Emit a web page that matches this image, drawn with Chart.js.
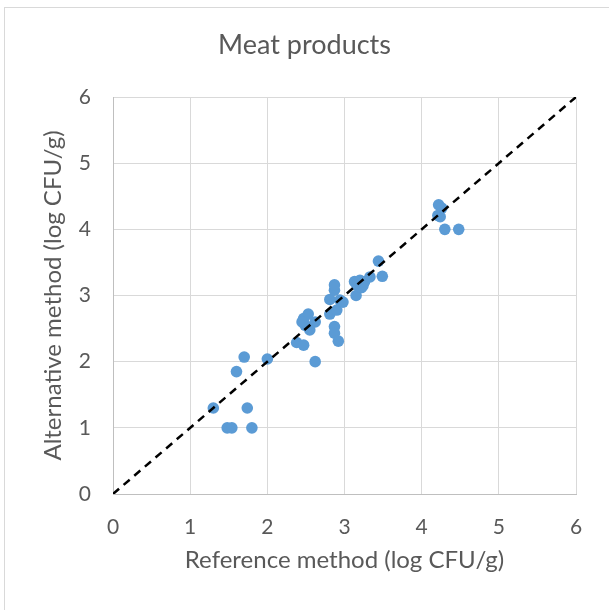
<!DOCTYPE html>
<html>
<head>
<meta charset="utf-8">
<script src="https://cdn.jsdelivr.net/npm/chart.js@4/dist/chart.umd.min.js"></script>
<style>
html, body { margin: 0; padding: 0; background: #fff; }
</style>
</head>
<body>
<canvas id="chart" width="609" height="610"></canvas>
<script>
// reference method (x) vs alternative method (y), log CFU/g
var refMethod = [1.48, 1.54, 1.80, 1.30, 1.74, 1.60, 1.70, 2.00, 2.38, 2.47,
                 2.62, 2.47, 2.53, 2.49, 2.62, 2.55, 2.45, 2.81, 2.87, 2.87,
                 2.92, 2.90, 2.81, 2.94, 2.98, 2.87, 2.87, 3.15, 3.13, 3.20,
                 3.24, 3.16, 3.26, 3.22, 3.24, 3.33, 3.49, 3.44, 4.22, 4.26,
                 4.21, 4.24, 4.30, 4.48];
var altMethod = [1.00, 1.00, 1.00, 1.30, 1.30, 1.85, 2.07, 2.04, 2.29, 2.25,
                 2.00, 2.65, 2.72, 2.55, 2.60, 2.48, 2.60, 2.72, 2.53, 2.43,
                 2.31, 2.78, 2.94, 2.93, 2.90, 3.08, 3.16, 3.00, 3.21, 3.23,
                 3.18, 3.16, 3.21, 3.12, 3.15, 3.28, 3.29, 3.52, 4.37, 4.32,
                 4.21, 4.19, 4.00, 4.00];
var lineX = [0, 6];
var lineY = [0, 6];
var axisMin = 0, axisMax = 6, axisStep = 1;

var points = refMethod.map(function (x, i) { return {x: x, y: altMethod[i]}; });
var linePts = lineX.map(function (x, i) { return {x: x, y: lineY[i]}; });

var fontFamily = 'Lato, "Open Sans", sans-serif';
var textColor = '#595959';
var gridColor = '#d9d9d9';

var frame = {
    id: 'frame',
    beforeDraw: function (chart) {
        var ctx = chart.ctx;
        ctx.save();
        ctx.fillStyle = '#fff';
        ctx.fillRect(0, 0, chart.width, chart.height);
        ctx.strokeStyle = gridColor;
        ctx.lineWidth = 1;
        ctx.strokeRect(4.5, 7.5, chart.width + 10, chart.height + 10);
        ctx.restore();
    }
};

new Chart(document.getElementById('chart'), {
    type: 'scatter',
    data: {
        datasets: [{
            label: 'y = x',
            data: linePts,
            showLine: true,
            borderColor: '#000',
            borderWidth: 2.5,
            borderDash: [8, 6],
            pointRadius: 0,
            fill: false
        }, {
            label: 'Meat products',
            data: points,
            backgroundColor: '#5B9BD5',
            borderColor: '#5B9BD5',
            borderWidth: 0,
            pointRadius: 5.8,
            pointHoverRadius: 5.8
        }]
    },
    options: {
        responsive: false,
        animation: false,
        devicePixelRatio: 1,
        layout: {padding: 0},
        plugins: {
            legend: {display: false},
            tooltip: {enabled: false},
            title: {
                display: true,
                text: 'Meat products',
                color: textColor,
                font: {family: fontFamily, size: 27, weight: 'normal'},
                padding: {top: 29, bottom: 35.6}
            }
        },
        scales: {
            x: {
                type: 'linear',
                min: axisMin,
                max: axisMax,
                afterFit: function (scale) { scale.height = 116; },
                ticks: {stepSize: axisStep, color: textColor, padding: 21,
                        font: {family: fontFamily, size: 21}},
                grid: {color: gridColor, drawTicks: false},
                border: {color: '#bfbfbf'},
                title: {display: true, text: 'Reference method (log CFU/g)', color: textColor,
                        font: {family: fontFamily, size: 24}, padding: {bottom: 35}}
            },
            y: {
                type: 'linear',
                min: axisMin,
                max: axisMax,
                afterFit: function (scale) { scale.width = 113; },
                ticks: {stepSize: axisStep, color: textColor, padding: 22,
                        font: {family: fontFamily, size: 21}},
                grid: {color: gridColor, drawTicks: false},
                border: {color: '#bfbfbf'},
                title: {display: true, text: 'Alternative method (log CFU/g)', color: textColor,
                        font: {family: fontFamily, size: 24}, padding: {top: 39}}
            },
            // empty right margin so the title centres on the whole canvas
            yRight: {
                type: 'linear',
                position: 'right',
                min: axisMin,
                max: axisMax,
                afterFit: function (scale) { scale.width = 33; },
                ticks: {display: false},
                grid: {display: false, drawTicks: false},
                border: {display: false}
            }
        }
    },
    plugins: [frame]
});
</script>
</body>
</html>
